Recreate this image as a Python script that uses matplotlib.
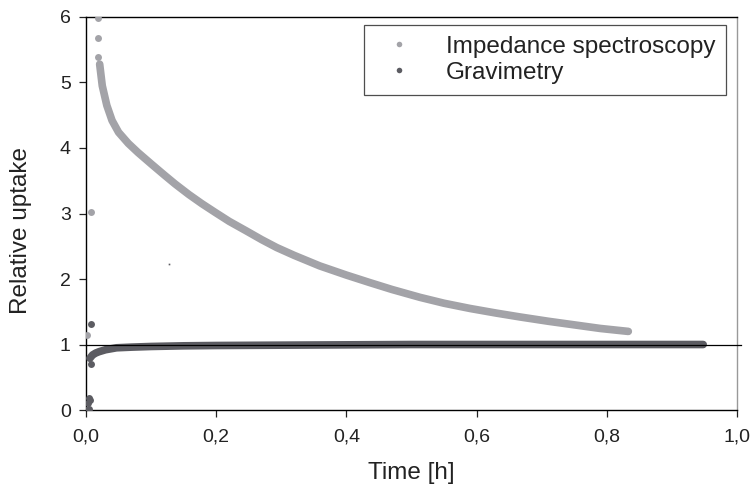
import matplotlib
matplotlib.use("Agg")
import matplotlib.pyplot as plt
from matplotlib.lines import Line2D

plt.rcParams['font.family'] = ['Liberation Sans', 'DejaVu Sans']

# Impedance spectroscopy - dense band of points
imp_x = [0.021, 0.025, 0.032, 0.040, 0.050, 0.065, 0.080, 0.101, 0.120, 0.137,
         0.158, 0.178, 0.198, 0.22, 0.247, 0.27, 0.293, 0.32, 0.359, 0.40,
         0.436, 0.47, 0.513, 0.55, 0.59, 0.63, 0.667, 0.71, 0.75, 0.79, 0.833]
imp_y = [5.28, 4.95, 4.65, 4.42, 4.24, 4.07, 3.93, 3.75, 3.59, 3.45,
         3.29, 3.15, 3.02, 2.88, 2.73, 2.60, 2.48, 2.36, 2.20, 2.06,
         1.945, 1.84, 1.72, 1.63, 1.55, 1.48, 1.42, 1.355, 1.30, 1.245, 1.20]
# scattered early points
imp_px = [0.002, 0.008, 0.018, 0.018, 0.019]
imp_py = [1.15, 3.03, 5.98, 5.68, 5.39]
stray_x = [0.127]
stray_y = [2.23]

# Gravimetry
grav_x = [0.006, 0.010, 0.015, 0.020, 0.030, 0.047, 0.07, 0.10, 0.15, 0.20,
          0.30, 0.40, 0.50, 0.60, 0.70, 0.80, 0.90, 0.948]
grav_y = [0.79, 0.84, 0.87, 0.89, 0.92, 0.95, 0.96, 0.97, 0.98, 0.985,
          0.99, 0.995, 1.0, 1.0, 1.0, 1.0, 1.0, 1.0]
grav_px = [0.0, 0.002, 0.003, 0.005, 0.006, 0.007, 0.008, 0.004]
grav_py = [0.0, 0.0, 0.10, 0.18, 0.15, 1.31, 0.70, 0.02]

light = '#a3a3a8'
dark = '#5c5c62'

fig = plt.figure(figsize=(7.53, 4.88), dpi=100)
ax = fig.add_axes([0.1142, 0.1598, 0.8646, 0.8054])

ax.plot(imp_x, imp_y, color=light, lw=5.5, solid_capstyle='round',
        solid_joinstyle='round', zorder=3)
ax.plot(imp_px, imp_py, 'o', color=light, ms=5, mec='none', zorder=3)
ax.plot(stray_x, stray_y, 's', color=dark, ms=1.2, mec='none', zorder=3)
ax.plot(grav_x, grav_y, color=dark, lw=5.5, solid_capstyle='round',
        solid_joinstyle='round', zorder=4)
ax.plot(grav_px, grav_py, 'o', color=dark, ms=5, mec='none', zorder=4)

ax.axhline(1.0, xmin=0, xmax=1.006, color='black', lw=0.9, clip_on=False, zorder=5)

ax.set_xlim(0, 1.0)
ax.set_ylim(0, 6)
ax.set_xticks([0, 0.2, 0.4, 0.6, 0.8, 1.0])
ax.set_xticklabels(['0,0', '0,2', '0,4', '0,6', '0,8', '1,0'])
ax.set_yticks(range(7))
ax.tick_params(direction='out', length=5, width=0.9, labelsize=14, colors='#222222')
ax.tick_params(axis='x', pad=8)
ax.tick_params(axis='y', pad=6)
for s in ['left', 'bottom', 'top']:
    ax.spines[s].set_linewidth(1.0)
ax.spines['right'].set_color('#999999')
ax.spines['right'].set_linewidth(1.0)

ax.set_xlabel('Time [h]', fontsize=17.5, color='#222222')
ax.set_ylabel('Relative uptake', fontsize=17.5, color='#222222')
ax.xaxis.set_label_coords(0.499, -0.132)
ax.yaxis.set_label_coords(-0.083, 0.458)

handles = [Line2D([], [], ls='none', marker='o', ms=4, color=light, mec='none'),
           Line2D([], [], ls='none', marker='o', ms=4, color=dark, mec='none')]
leg = ax.legend(handles, ['Impedance spectroscopy', 'Gravimetry'],
                loc='upper right', bbox_to_anchor=(0.983, 0.980),
                fontsize=17.5, frameon=True, fancybox=False, borderpad=0.45,
                handletextpad=0.9, handlelength=2.0, labelspacing=0.17,
                borderaxespad=0)
leg.get_frame().set_edgecolor('#222222')
leg.get_frame().set_linewidth(0.9)
for t in leg.get_texts():
    t.set_color('#222222')

fig.savefig('out.png', dpi=100)
